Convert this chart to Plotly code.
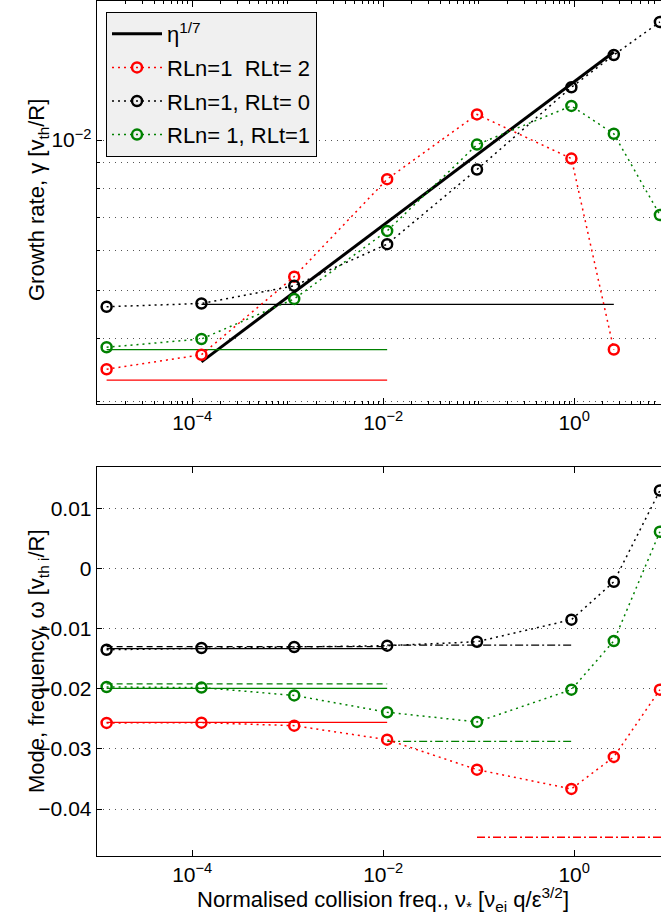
import plotly.graph_objects as go

# ---------------- data ----------------
nu = [1.27e-5, 1.25e-4, 1.17e-3, 1.1e-2, 0.096, 0.935, 2.6, 7.9]

gamma_rlt2 = [3.48e-3, 3.72e-3, 5.33e-3, 8.35e-3, 1.125e-2, 9.18e-3, 3.81e-3, None]
gamma_rlt0 = [4.64e-3, 4.71e-3, 5.11e-3, 6.19e-3, 8.73e-3, 1.275e-2, 1.479e-2, 1.722e-2]
gamma_rlt1 = [3.85e-3, 4.0e-3, 4.81e-3, 6.58e-3, 9.79e-3, 1.17e-2, 1.029e-2, 7.08e-3]

omega_rlt2 = [-0.02568, -0.02563, -0.02613, -0.02846, -0.03344, -0.03665, -0.03133, -0.02015]
omega_rlt0 = [-0.01351, -0.01323, -0.01306, -0.01284, -0.01218, -0.00852, -0.00221, 0.01296]
omega_rlt1 = [-0.0197, -0.0198, -0.0211, -0.0239, -0.02551, -0.02015, -0.01206, 0.0061]

# eta^(1/7) scaling line
eta_x = [1.25e-4, 2.6]
eta_y = [3.6e-3, 1.5e-2]

# reference (limit) lines, growth rate
gref_rlt0_x = [1.25e-4, 2.6];  gref_rlt0_y = [4.69e-3, 4.69e-3]
gref_rlt1_x = [1.27e-5, 1.1e-2]; gref_rlt1_y = [3.81e-3, 3.81e-3]
gref_rlt2_x = [1.27e-5, 1.1e-2]; gref_rlt2_y = [3.31e-3, 3.31e-3]

# reference lines, frequency
wref_low_x = [1.27e-5, 1.1e-2]
wref_mid_x = [1.1e-2, 0.95]
wref_high_x = [0.096, 10.0]
w0_solid = [-0.01334, -0.01334]; w0_dash = [-0.0130, -0.0130]; w0_dashdot = [-0.01273, -0.01273]
w1_solid = [-0.01993, -0.01993]; w1_dash = [-0.0192, -0.0192]; w1_dashdot = [-0.02873, -0.02873]
w2_solid = [-0.02558, -0.02558]; w2_dashdot = [-0.04468, -0.04468]

labels = ["RLn=1\u00a0 RLt= 2", "RLn=1, RLt= 0", "RLn= 1, RLt=1"]
RED, BLACK, GREEN = "#ff0000", "#000000", "#008000"

# tick labels
xt_vals = [1e-4, 1e-2, 1e0]
xt_text = ["10<sup>−4</sup>", "10<sup>−2</sup>", "10<sup>0</sup>"]
gy_vals = [1e-2]
gy_text = ["10<sup>−2</sup>"]
gy_minor = [3e-3, 4e-3, 5e-3, 6e-3, 7e-3, 8e-3, 9e-3]
wy_vals = [-0.04, -0.03, -0.02, -0.01, 0, 0.01]
wy_text = ["−0.04", "−0.03", "−0.02", "−0.01", "0", "0.01"]

# ---------------- figure ----------------
W, H = 661, 919
FONT = "Liberation Sans, Arial, Helvetica, sans-serif"
FS_TICK = 21
FS_TITLE = 22
FS_LEG = 22
DOT = "2px,4px"
DASHDOT = "8px,3px,2px,3px"
DASH = "6px,4px"

fig = go.Figure()

def series(x, y, color, name, xa, ya, legend):
    fig.add_trace(go.Scatter(
        x=x, y=y, mode="lines+markers", name=name, xaxis=xa, yaxis=ya,
        showlegend=legend, legendgroup=name,
        line=dict(color=color, width=1.5, dash=DOT),
        marker=dict(symbol="circle-open", size=10, color=color, line=dict(width=2.5, color=color)),
    ))

def ref(x, y, color, dash, xa, ya, width=1.3):
    fig.add_trace(go.Scatter(x=x, y=y, mode="lines", xaxis=xa, yaxis=ya, showlegend=False,
                             line=dict(color=color, width=width, dash=dash), hoverinfo="skip"))

# top panel
fig.add_trace(go.Scatter(x=eta_x, y=eta_y, mode="lines", name="η<sup>1/7</sup>", legendgroup="eta",
                         xaxis="x", yaxis="y", line=dict(color=BLACK, width=3)))
ref(gref_rlt0_x, gref_rlt0_y, BLACK, "solid", "x", "y")
ref(gref_rlt1_x, gref_rlt1_y, GREEN, "solid", "x", "y")
ref(gref_rlt2_x, gref_rlt2_y, RED, "solid", "x", "y")
series(nu, gamma_rlt2, RED, labels[0], "x", "y", True)
series(nu, gamma_rlt0, BLACK, labels[1], "x", "y", True)
series(nu, gamma_rlt1, GREEN, labels[2], "x", "y", True)

# bottom panel
ref(wref_low_x, w0_solid, BLACK, "solid", "x2", "y2")
ref(wref_low_x, w0_dash, BLACK, DASH, "x2", "y2")
ref(wref_mid_x, w0_dashdot, BLACK, DASHDOT, "x2", "y2")
ref(wref_low_x, w1_solid, GREEN, "solid", "x2", "y2")
ref(wref_low_x, w1_dash, GREEN, DASH, "x2", "y2")
ref(wref_mid_x, w1_dashdot, GREEN, DASHDOT, "x2", "y2")
ref(wref_low_x, w2_solid, RED, "solid", "x2", "y2")
ref(wref_high_x, w2_dashdot, RED, DASHDOT, "x2", "y2")
series(nu, omega_rlt2, RED, labels[0], "x2", "y2", False)
series(nu, omega_rlt0, BLACK, labels[1], "x2", "y2", False)
series(nu, omega_rlt1, GREEN, labels[2], "x2", "y2", False)

# ---------------- axes ----------------
x_left = 96.7 / W
x_range = [-5.0, 0.909]
minor_x = [m * 10.0 ** d for d in range(-5, 1) for m in range(2, 10)] + [1e-5, 1e-3, 1e-1]

GRID = dict(showgrid=True, gridcolor="#555555", gridwidth=1, griddash="1px,5px")
TICKFONT = dict(family=FONT, size=FS_TICK, color="black")

common_x = dict(type="log", range=x_range, domain=[x_left, 1.0], showline=True, linecolor="black",
                linewidth=1, mirror="ticks", ticks="inside", ticklen=6, tickcolor="black",
                tickmode="array", tickvals=xt_vals, ticktext=xt_text, showgrid=False, zeroline=False,
                tickfont=TICKFONT)

fig.update_layout(
    width=W, height=H, margin=dict(l=0, r=0, t=0, b=0),
    paper_bgcolor="white", plot_bgcolor="white",
    font=dict(family=FONT, size=FS_TICK, color="black"),
    xaxis=dict(common_x, anchor="y",
               minor=dict(ticks="inside", ticklen=3, tickcolor="black", tickmode="array",
                          tickvals=minor_x, showgrid=False)),
    yaxis=dict(type="log", range=[-2.527, -1.721], domain=[1 - 403.5 / H, 1 - 0.5 / H], anchor="x",
               showline=True, linecolor="black", linewidth=1, mirror=False, ticks="inside", ticklen=5,
               tickcolor="black", tickmode="array", tickvals=gy_vals, ticktext=gy_text,
               zeroline=False, tickfont=TICKFONT, **GRID,
               minor=dict(ticks="inside", ticklen=3, tickcolor="black", tickmode="array",
                          tickvals=gy_minor, **GRID)),
    xaxis2=dict(common_x, anchor="y2"),
    yaxis2=dict(range=[-0.04771, 0.01681], domain=[1 - 855.5 / H, 1 - 467.3 / H], anchor="x2",
                showline=True, linecolor="black", linewidth=1, mirror=False, ticks="inside", ticklen=5,
                tickcolor="black", tickmode="array", tickvals=wy_vals, ticktext=wy_text,
                zeroline=False, tickfont=TICKFONT, **GRID),
    legend=dict(x=106 / W, y=1 - 12 / H, xanchor="left", yanchor="top", bgcolor="#f0f0f0",
                bordercolor="black", borderwidth=1, font=dict(family=FONT, size=FS_LEG, color="black"),
                tracegroupgap=2, itemwidth=50),
    showlegend=True,
)

fig.add_annotation(text="Growth rate, γ [v<sub>th</sub>/R]", textangle=-90, xref="paper", yref="paper",
                   x=38 / W, y=1 - 200 / H, showarrow=False, xanchor="center", yanchor="middle",
                   font=dict(family=FONT, size=FS_TITLE, color="black"))
fig.add_annotation(text="Mode, frequency, ω [v<sub>th i</sub>/R]", textangle=-90, xref="paper", yref="paper",
                   x=38 / W, y=1 - 661 / H, showarrow=False, xanchor="center", yanchor="middle",
                   font=dict(family=FONT, size=FS_TITLE, color="black"))
fig.add_annotation(text="Normalised collision freq., ν<sub>*</sub> [ν<sub>ei</sub> q/ε<sup>3/2</sup>]",
                   xref="paper", yref="paper", x=383 / W, y=1 - 899 / H, showarrow=False,
                   xanchor="center", yanchor="middle", font=dict(family=FONT, size=FS_TITLE, color="black"))

fig.write_html("out.html")
